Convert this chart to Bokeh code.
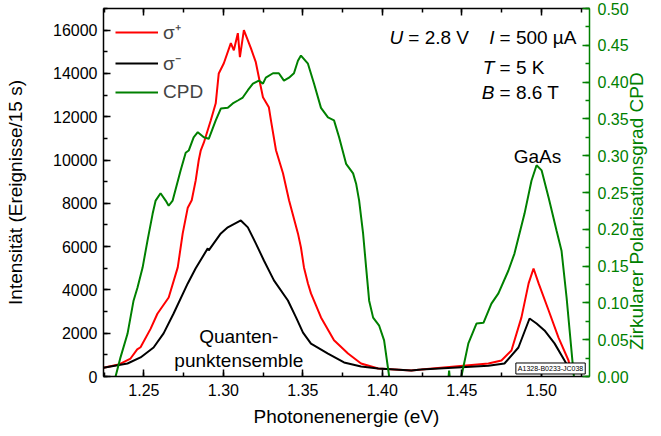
import math
from bokeh.plotting import figure
from bokeh.models import (Range1d, LinearAxis, SingleIntervalTicker, NumeralTickFormatter,
                          Label, Legend, LegendItem)
from bokeh.embed import file_html
from bokeh.resources import INLINE

# ---- data ----
energy_plus = [1.2246, 1.2341, 1.2416, 1.2458, 1.2479, 1.2542, 1.2585, 1.2656, 1.2713, 1.2744,
               1.2776, 1.2801, 1.2826, 1.2845, 1.2858, 1.2877, 1.2921, 1.2952, 1.2971, 1.3003,
               1.3047, 1.3066, 1.3091, 1.3104, 1.3129, 1.3173, 1.3204, 1.3236, 1.3249, 1.3286,
               1.3299, 1.3331, 1.3375, 1.3413, 1.3469, 1.3488, 1.3507, 1.3532, 1.3551, 1.3614,
               1.3696, 1.3784, 1.3866, 1.3974, 1.4182, 1.4245, 1.4667, 1.4749, 1.4812, 1.4875,
               1.4920, 1.4951, 1.4983, 1.5046, 1.5108, 1.5171, 1.5184]
sigma_plus = [400, 550, 830, 1250, 1350, 2200, 2900, 3650, 5040, 6600,
              7800, 8140, 9060, 9990, 10450, 10800, 11840, 12620, 14000, 14470,
              15400, 15070, 15860, 14750, 16000, 15170, 14520, 13360, 12900, 12440,
              11840, 10450, 9390, 8140, 6610, 5960, 5040, 4300, 3840, 2730,
              1670, 1060, 600, 370, 280, 320, 600, 740, 1200, 2730,
              4300, 4990, 4300, 3050, 1800, 740, 250]

energy_minus = [1.2246, 1.2397, 1.2479, 1.2561, 1.2624, 1.2687, 1.2776, 1.2826, 1.2902, 1.2908,
                1.2984, 1.3028, 1.3110, 1.3154, 1.3204, 1.3255, 1.3318, 1.3406, 1.3457, 1.3501,
                1.3551, 1.3658, 1.3759, 1.3866, 1.3974, 1.4182, 1.4245, 1.4667, 1.4768, 1.4856,
                1.4926, 1.4970, 1.5020, 1.5083, 1.5146, 1.5178]
sigma_minus = [400, 600, 880, 1340, 1990, 2910, 4300, 5000, 5920, 5830,
               6610, 6890, 7210, 6890, 6150, 5360, 4440, 3510, 2730, 2030,
               1520, 1060, 650, 460, 370, 280, 320, 500, 600, 1340,
               2680, 2450, 2130, 1530, 740, 320]

energy_cpd = [1.2246, 1.2322, 1.2353, 1.2397, 1.2435, 1.2460, 1.2492, 1.2523, 1.2555, 1.2574,
              1.2605, 1.2637, 1.2656, 1.2681, 1.2731, 1.2763, 1.2782, 1.2813, 1.2839, 1.2877,
              1.2908, 1.2952, 1.2984, 1.3028, 1.3059, 1.3091, 1.3122, 1.3154, 1.3186, 1.3223,
              1.3249, 1.3267, 1.3312, 1.3349, 1.3381, 1.3413, 1.3444, 1.3469, 1.3488, 1.3532,
              1.3570, 1.3614, 1.3658, 1.3696, 1.3728, 1.3772, 1.3816, 1.3835, 1.3854, 1.3879,
              1.3898, 1.3917, 1.3942, 1.3980, 1.4011, 1.4043, 1.4100, 1.4400, 1.4420, 1.4440,
              1.4497, 1.4541, 1.4592, 1.4636, 1.4686, 1.4730, 1.4793, 1.4831, 1.4894, 1.4938,
              1.4970, 1.5002, 1.5046, 1.5096, 1.5127, 1.5159, 1.5178, 1.5203, 1.5220]
cpd = [-0.03, 0.0, 0.026, 0.058, 0.103, 0.121, 0.148, 0.185, 0.221, 0.239,
       0.249, 0.239, 0.232, 0.239, 0.280, 0.304, 0.307, 0.325, 0.332, 0.325,
       0.323, 0.348, 0.364, 0.365, 0.371, 0.375, 0.379, 0.389, 0.398, 0.402,
       0.398, 0.406, 0.412, 0.412, 0.402, 0.406, 0.412, 0.429, 0.436, 0.425,
       0.398, 0.365, 0.352, 0.348, 0.325, 0.289, 0.276, 0.262, 0.239, 0.194,
       0.148, 0.103, 0.080, 0.069, 0.049, 0.0, -0.06, -0.04, 0.008, -0.04,
       0.0, 0.045, 0.072, 0.073, 0.099, 0.113, 0.144, 0.167, 0.221, 0.266,
       0.287, 0.280, 0.243, 0.198, 0.171, 0.107, 0.0625, 0.004, -0.03]

x_ticks_interval = 0.05
y_ticks_interval = 2000
cpd_ticks_interval = 0.05

FONT = "Liberation Sans"
GREEN = "#008000"
RED = "#ff0000"

p = figure(width=661, height=436, x_range=Range1d(1.2246, 1.5303), y_range=Range1d(0, 17000),
           output_backend="svg", toolbar_location=None,
           min_border_left=103, min_border_right=72, min_border_top=8, min_border_bottom=60)
p.extra_y_ranges = {"cpd": Range1d(0, 0.5)}
p.outline_line_color = None
p.xgrid.grid_line_color = None
p.ygrid.grid_line_color = None
p.background_fill_color = "white"
p.border_fill_color = "white"


def style_axis(ax, color="black"):
    ax.axis_line_color = color
    ax.axis_line_width = 1.5
    ax.major_tick_line_color = color
    ax.minor_tick_line_color = color
    ax.major_tick_line_width = 1.5
    ax.minor_tick_line_width = 1.5
    ax.major_tick_in = 7
    ax.major_tick_out = 0
    ax.minor_tick_in = 4
    ax.minor_tick_out = 0
    ax.major_label_text_font = FONT
    ax.major_label_text_font_size = "16px"
    ax.major_label_text_color = color
    ax.axis_label_text_font = FONT
    ax.axis_label_text_font_size = "19px"
    ax.axis_label_text_font_style = "normal"
    ax.axis_label_text_color = color


xax = p.xaxis[0]
xax.ticker = SingleIntervalTicker(interval=x_ticks_interval, num_minor_ticks=2)
xax.formatter = NumeralTickFormatter(format="0.00")
style_axis(xax)
xax.axis_label = "Photonenenergie (eV)"
xax.major_label_standoff = 7
xax.axis_label_standoff = 7

yax = p.yaxis[0]
yax.ticker = SingleIntervalTicker(interval=y_ticks_interval, num_minor_ticks=2)
yax.formatter = NumeralTickFormatter(format="0")
style_axis(yax)
yax.axis_label = "Intensität (Ereignisse/15 s)"
yax.major_label_standoff = 6
yax.axis_label_standoff = 24

rax = LinearAxis(y_range_name="cpd",
                 ticker=SingleIntervalTicker(interval=cpd_ticks_interval, num_minor_ticks=2),
                 formatter=NumeralTickFormatter(format="0.00"))
style_axis(rax, GREEN)
rax.major_label_standoff = 8
# title reads bottom to top; starts near the bottom of the axis
rax.axis_label = "\u00a0" * 5 + "Zirkularer Polarisationsgrad CPD"
rax.axis_label_orientation = math.pi / 2
rax.axis_label_align = "start"
rax.axis_label_text_align = "left"
rax.axis_label_text_baseline = "top"
rax.axis_label_standoff = 5
p.add_layout(rax, "right")

tax = LinearAxis(ticker=SingleIntervalTicker(interval=x_ticks_interval, num_minor_ticks=2))
style_axis(tax)
tax.major_label_text_font_size = "0px"
tax.major_label_text_color = None
tax.major_label_standoff = 0
p.add_layout(tax, "above")

r_plus = p.line(energy_plus, sigma_plus, line_color=RED, line_width=2)
r_minus = p.line(energy_minus, sigma_minus, line_color="black", line_width=2)
r_cpd = p.line(energy_cpd, cpd, line_color=GREEN, line_width=2, y_range_name="cpd")

legend = Legend(items=[LegendItem(label="σ⁺", renderers=[r_plus]),
                       LegendItem(label="σ⁻", renderers=[r_minus]),
                       LegendItem(label="CPD", renderers=[r_cpd])],
                location=(12, 273), padding=5, margin=0, spacing=5,
                glyph_width=43, glyph_height=22, label_height=22, label_standoff=5,
                label_text_font=FONT, label_text_font_size="19px",
                border_line_color=None, background_fill_alpha=0)
p.add_layout(legend, "center")


def lab(x, y, text, align="left", style="normal", size="19px", **kw):
    p.add_layout(Label(x=x, y=y, text=text, text_align=align, text_baseline="alphabetic",
                       text_font=FONT, text_font_size=size, text_font_style=style,
                       text_color="black", **kw))


lab(1.4131, 15675, "U", align="right", style="italic")
lab(1.4163, 15675, "= 2.8 V")
lab(1.4705, 15675, "I", align="right", style="italic")
lab(1.4737, 15675, "= 500 µA")
lab(1.4705, 14288, "T", align="right", style="italic")
lab(1.4737, 14288, "= 5 K")
lab(1.4705, 13132, "B", align="right", style="italic")
lab(1.4737, 13132, "= 8.6 T")
lab(1.4976, 10173, "GaAs", align="center")
lab(1.3097, 1850, "Quanten-", align="center")
lab(1.3097, 740, "punktensemble", align="center")

p.add_layout(Label(x=1.5058, y=370, text="A1328-B0233-JC038", text_align="center",
                   text_baseline="middle", text_font=FONT, text_font_size="7px",
                   text_color="black", border_line_color="black", border_line_width=1,
                   background_fill_color="white", padding=2))

open("out.html", "w").write(file_html(p, INLINE))
